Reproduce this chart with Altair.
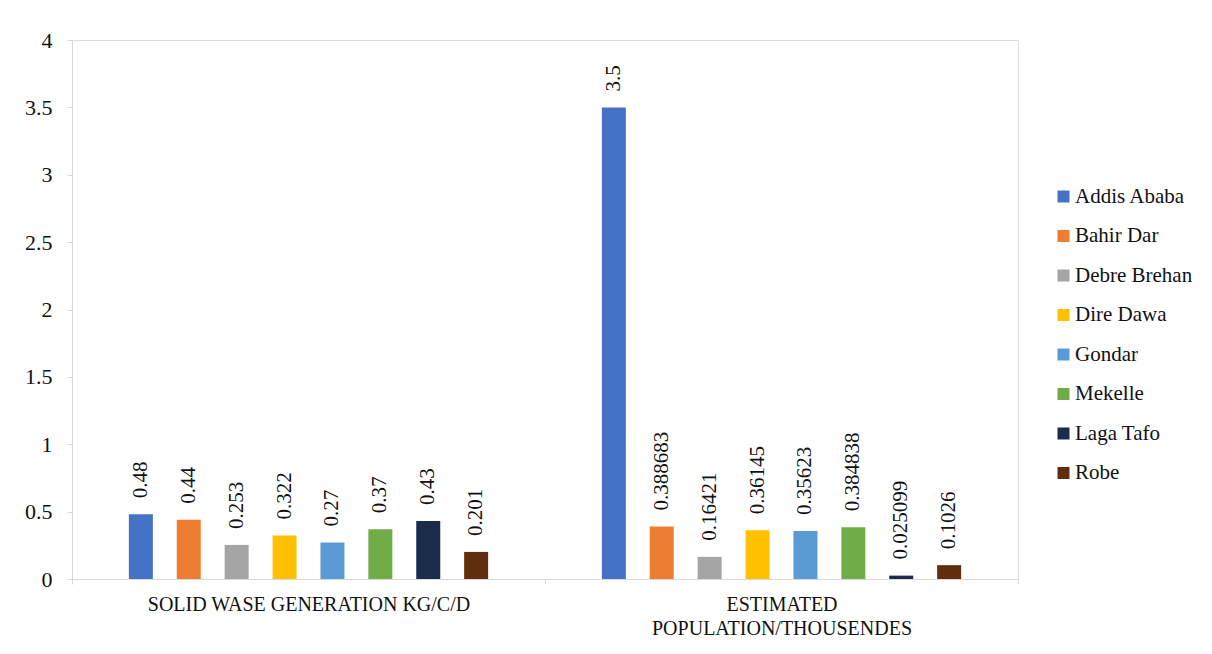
import altair as alt
import pandas as pd

categories = ["SOLID WASE GENERATION KG/C/D", "ESTIMATED POPULATION/THOUSENDES"]
cities = ["Addis Ababa", "Bahir Dar", "Debre Brehan", "Dire Dawa", "Gondar", "Mekelle", "Laga Tafo", "Robe"]
waste_values = [0.48, 0.44, 0.253, 0.322, 0.27, 0.37, 0.43, 0.201]
population_values = [3.5, 0.388683, 0.16421, 0.36145, 0.35623, 0.384838, 0.025099, 0.1026]
colors = ["#4472C4", "#ED7D31", "#A5A5A5", "#FFC000", "#5B9BD5", "#70AD47", "#1A2B4C", "#602D0D"]

rows = []
for cat, vals in zip(categories, [waste_values, population_values]):
    for city, v in zip(cities, vals):
        rows.append({"category": cat, "city": city, "value": v, "label": str(v)})
df = pd.DataFrame(rows)

FONT = "Times New Roman, Liberation Serif, serif"

base = alt.Chart(df).encode(
    x=alt.X("category:N", sort=categories,
            scale=alt.Scale(paddingInner=0, paddingOuter=0),
            axis=alt.Axis(title=None, labelAngle=0, labelFont=FONT, labelFontSize=20,
                          labelColor="#111111", domainColor="#d9d9d9", tickColor="#d9d9d9",
                          tickSize=5, tickBand="extent", labelPadding=10, labelLineHeight=24,
                          labelLimit=600,
                          labelExpr="datum.label == 'ESTIMATED POPULATION/THOUSENDES' ? ['ESTIMATED', 'POPULATION/THOUSENDES'] : datum.label")),
    xOffset=alt.XOffset("city:N", sort=cities,
                        scale=alt.Scale(paddingInner=0.125, paddingOuter=1)),
)

bars = base.mark_bar(width=24).encode(
    y=alt.Y("value:Q", scale=alt.Scale(domain=[0, 4]),
            axis=alt.Axis(title=None, values=[0, 0.5, 1, 1.5, 2, 2.5, 3, 3.5, 4], format=".1~f",
                          grid=False, labelFont=FONT, labelFontSize=22, labelColor="#111111",
                          domainColor="#d9d9d9", tickColor="#d9d9d9", tickSize=5,
                          labelPadding=15)),
    color=alt.Color("city:N", sort=cities,
                    scale=alt.Scale(domain=cities, range=colors),
                    legend=alt.Legend(title=None, orient="none", legendX=981, legendY=146,
                                      symbolType="square", symbolSize=144, symbolStrokeWidth=0,
                                      labelFont=FONT, labelFontSize=21, labelColor="#111111",
                                      rowPadding=17.5, labelOffset=1, labelLimit=300)),
)

texts = base.mark_text(angle=270, align="left", baseline="middle", dx=16,
                       font=FONT, fontSize=21, color="#111111").encode(
    y=alt.Y("value:Q"),
    text=alt.Text("label:N"),
)

chart = alt.layer(bars, texts).properties(
    width=946, height=539,
    autosize=alt.AutoSizeParams(type="none"),
    padding={"left": 72, "top": 40, "right": 194, "bottom": 75},
).configure_view(stroke=None).configure(background="white")

chart.save("out.html", embed_options={"renderer": "svg", "actions": False})
